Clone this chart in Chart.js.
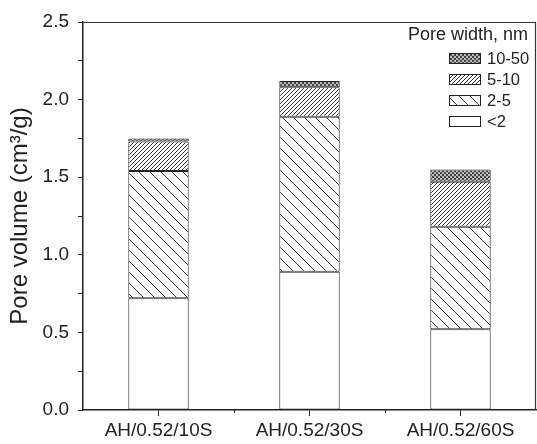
<!DOCTYPE html>
<html>
<head>
<meta charset="utf-8">
<script src="https://cdn.jsdelivr.net/npm/chart.js@4"></script>
<style>
  html, body { margin: 0; padding: 0; background: #fff; }
  #wrap { width: 537px; height: 444px; }
</style>
</head>
<body>
<div id="wrap"><canvas id="c" width="537" height="444"></canvas></div>
<script>
const categories = ['AH/0.52/10S', 'AH/0.52/30S', 'AH/0.52/60S'];
const poreLt2 = [0.72, 0.89, 0.52];
const pore2to5 = [0.82, 1.00, 0.66];
const pore5to10 = [0.19, 0.19, 0.29];
const pore10to50 = [0.02, 0.04, 0.08];
const seriesLabels = ['<2', '2-5', '5-10', '10-50'];
const yTicksMajor = ['0.0', '0.5', '1.0', '1.5', '2.0', '2.5'];

const FONT = "'Liberation Sans', Arial, sans-serif";
const INK = '#222';

function makePattern(size, draw) {
  const c = document.createElement('canvas');
  c.width = size; c.height = size;
  const g = c.getContext('2d');
  g.fillStyle = '#fff';
  g.fillRect(0, 0, size, size);
  draw(g, size);
  return document.getElementById('c').getContext('2d').createPattern(c, 'repeat');
}
function diag(g, s, dir, color, w) {
  g.strokeStyle = color; g.lineWidth = w;
  g.beginPath();
  for (let k = -1; k <= 1; k++) {
    if (dir > 0) { g.moveTo(k * s, 0); g.lineTo(k * s + s, s); }
    else { g.moveTo(k * s, s); g.lineTo(k * s + s, 0); }
  }
  g.stroke();
}
const patWhite = '#ffffff';
const pat25 = makePattern(11, (g, s) => diag(g, s, 1, '#333', 1));
const pat510 = makePattern(4, (g, s) => diag(g, s, -1, '#333', 1));
const pat1050 = makePattern(4, (g, s) => {
  g.fillStyle = '#444';
  g.fillRect(0, 0, 2, 2);
  g.fillRect(2, 2, 2, 2);
  g.fillStyle = '#bbb';
  g.fillRect(2, 0, 2, 2);
  g.fillRect(0, 2, 2, 2);
});
const fills = [patWhite, pat25, pat510, pat1050];
const seriesData = [poreLt2, pore2to5, pore5to10, pore10to50];

const datasets = seriesLabels.map((lab, i) => ({
  label: lab,
  data: seriesData[i],
  backgroundColor: fills[i],
  borderColor: INK,
  borderWidth: 1,
  borderSkipped: false,
  barPercentage: 0.4,
  categoryPercentage: 1.0
}));

const framePlugin = {
  id: 'frame',
  afterDraw(chart) {
    const { ctx, chartArea: a, scales } = chart;
    ctx.save();
    ctx.strokeStyle = '#333';
    ctx.lineWidth = 1.2;
    ctx.beginPath();
    ctx.moveTo(a.left, a.top + 0.5);
    ctx.lineTo(a.right - 0.5, a.top + 0.5);
    ctx.lineTo(a.right - 0.5, a.bottom);
    ctx.stroke();
    // minor x ticks at category boundaries
    const xs = scales.x;
    ctx.strokeStyle = INK;
    ctx.lineWidth = 1;
    ctx.beginPath();
    for (let i = 0; i < categories.length - 1; i++) {
      const px = Math.round((xs.getPixelForValue(i) + xs.getPixelForValue(i + 1)) / 2) + 0.5;
      ctx.moveTo(px, a.bottom);
      ctx.lineTo(px, a.bottom + 3);
    }
    ctx.stroke();
    // legend
    ctx.fillStyle = INK;
    ctx.textBaseline = 'middle';
    ctx.textAlign = 'right';
    ctx.font = '18px ' + FONT;
    ctx.fillText('Pore width, nm', 528, 35);
    ctx.textAlign = 'left';
    ctx.font = '16.5px ' + FONT;
    const order = [3, 2, 1, 0];
    order.forEach((di, k) => {
      const ds = chart.data.datasets[di];
      const cy = 58 + 21 * k;
      ctx.fillStyle = ds.backgroundColor;
      ctx.fillRect(449, cy - 5, 31, 10);
      ctx.strokeStyle = INK;
      ctx.lineWidth = 1;
      ctx.strokeRect(449.5, cy - 5 + 0.5, 31, 10);
      ctx.fillStyle = INK;
      ctx.fillText(ds.label, 487, cy + 1);
    });
    ctx.restore();
  }
};

new Chart(document.getElementById('c'), {
  type: 'bar',
  data: { labels: categories, datasets },
  options: {
    responsive: false,
    animation: false,
    devicePixelRatio: 1,
    layout: { padding: { top: 22, right: 1, left: 0, bottom: 0 } },
    plugins: { legend: { display: false }, tooltip: { enabled: false } },
    scales: {
      x: {
        stacked: true,
        offset: true,
        grid: { display: true, drawOnChartArea: false, offset: false, tickLength: 6, tickColor: INK, tickWidth: 1 },
        border: { display: true, color: INK, width: 1.5 },
        ticks: { color: INK, font: { family: FONT, size: 19 }, padding: 3, maxRotation: 0 },
        afterFit(s) { s.height = 34; }
      },
      y: {
        stacked: true,
        min: 0, max: 2.5,
        grid: { display: true, drawOnChartArea: false, tickLength: 5, tickColor: INK, tickWidth: 1 },
        border: { display: true, color: INK, width: 1.5 },
        ticks: {
          stepSize: 0.25,
          color: INK,
          font: { family: FONT, size: 19 },
          padding: 9,
          callback(v) {
            const k = Math.round(v / 0.5);
            return Math.abs(v - k * 0.5) < 1e-6 ? yTicksMajor[k] : '';
          }
        },
        title: {
          display: true,
          text: 'Pore volume (cm\u00B3/g)',
          color: INK,
          font: { family: FONT, size: 24 },
          padding: { top: 6, bottom: 0 }
        },
        afterFit(s) { s.width = 83; }
      }
    }
  },
  plugins: [framePlugin]
});
</script>
</body>
</html>
